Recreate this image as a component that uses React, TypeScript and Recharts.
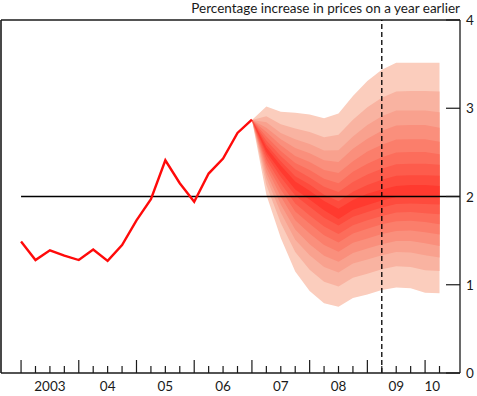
import React from 'react';
import { ComposedChart, Area, Line, XAxis, YAxis, ReferenceLine } from 'recharts';

// Quarter index: 0 = 2003 Q1
const cpiQuarters = [0, 1, 2, 3, 4, 5, 6, 7, 8, 9, 10, 11, 12, 13, 14, 15, 16];
const cpiValues = [1.49, 1.28, 1.39, 1.33, 1.28, 1.4, 1.27, 1.45, 1.73, 1.97, 2.41, 2.15, 1.94, 2.26, 2.43, 2.72, 2.87];

const fanQuarters = [16, 17, 18, 19, 20, 21, 22, 23, 24, 25, 26, 27, 28, 29];
const up9 = [2.867, 3.02, 2.96, 2.95, 2.93, 2.886, 2.94, 3.14, 3.31, 3.435, 3.515, 3.515, 3.515, 3.515];
const up8 = [2.867, 2.91, 2.82, 2.77, 2.73, 2.67, 2.7, 2.87, 3.01, 3.12, 3.19, 3.195, 3.195, 3.19];
const up7 = [2.867, 2.84, 2.72, 2.65, 2.595, 2.52, 2.525, 2.68, 2.81, 2.91, 2.975, 2.975, 2.975, 2.955];
const up6 = [2.867, 2.78, 2.65, 2.55, 2.49, 2.41, 2.39, 2.54, 2.655, 2.745, 2.805, 2.81, 2.81, 2.78];
const up5 = [2.867, 2.73, 2.58, 2.46, 2.39, 2.3, 2.265, 2.4, 2.51, 2.585, 2.645, 2.65, 2.65, 2.62];
const up4 = [2.867, 2.68, 2.515, 2.38, 2.3, 2.2, 2.15, 2.28, 2.37, 2.445, 2.5, 2.505, 2.505, 2.48];
const up3 = [2.867, 2.635, 2.46, 2.31, 2.215, 2.11, 2.05, 2.165, 2.25, 2.315, 2.365, 2.37, 2.37, 2.36];
const up2 = [2.867, 2.59, 2.4, 2.23, 2.135, 2.02, 1.945, 2.055, 2.13, 2.19, 2.235, 2.24, 2.24, 2.235];
const up1 = [2.867, 2.555, 2.35, 2.17, 2.065, 1.95, 1.86, 1.96, 2.03, 2.08, 2.12, 2.13, 2.13, 2.12];
const lo1 = [2.867, 2.505, 2.28, 2.08, 1.965, 1.845, 1.745, 1.85, 1.905, 1.955, 1.995, 2.005, 2.0, 2.0];
const lo2 = [2.867, 2.47, 2.22, 2.01, 1.885, 1.76, 1.67, 1.77, 1.825, 1.875, 1.915, 1.92, 1.915, 1.91];
const lo3 = [2.867, 2.42, 2.15, 1.92, 1.785, 1.66, 1.575, 1.675, 1.73, 1.78, 1.82, 1.825, 1.81, 1.8];
const lo4 = [2.867, 2.375, 2.08, 1.83, 1.69, 1.56, 1.48, 1.58, 1.635, 1.685, 1.72, 1.725, 1.71, 1.685];
const lo5 = [2.867, 2.325, 2.0, 1.73, 1.58, 1.45, 1.375, 1.475, 1.525, 1.575, 1.61, 1.615, 1.595, 1.57];
const lo6 = [2.867, 2.27, 1.91, 1.625, 1.46, 1.33, 1.26, 1.36, 1.41, 1.46, 1.495, 1.495, 1.47, 1.44];
const lo7 = [2.867, 2.21, 1.82, 1.51, 1.335, 1.2, 1.14, 1.24, 1.285, 1.335, 1.37, 1.365, 1.335, 1.31];
const lo8 = [2.867, 2.13, 1.7, 1.37, 1.17, 1.035, 0.98, 1.08, 1.125, 1.175, 1.21, 1.2, 1.165, 1.155];
const lo9 = [2.867, 2.02, 1.53, 1.15, 0.93, 0.79, 0.75, 0.85, 0.89, 0.94, 0.97, 0.96, 0.91, 0.905];

const quarterTicks = [0, 1, 2, 3, 4, 5, 6, 7, 8, 9, 10, 11, 12, 13, 14, 15, 16, 17, 18, 19, 20, 21, 22, 23, 24, 25, 26, 27, 28, 29];
const yearLabelPositions = [2, 6, 10, 14, 18, 22, 26, 28.5];
const yearLabels = ['2003', '04', '05', '06', '07', '08', '09', '10'];
const yTicks = [0, 1, 2, 3, 4];
const leftTicks = [1, 2, 3];
const forecastMarker = 25;
const targetRate = 2;
const titleText = 'Percentage increase in prices on a year earlier';

const uppers = [up1, up2, up3, up4, up5, up6, up7, up8, up9];
const lowers = [lo1, lo2, lo3, lo4, lo5, lo6, lo7, lo8, lo9];
// band 1 (central, darkest) ... band 9 (outer, lightest)
const bandColours = ['#FF3A2F', '#FE4B3D', '#FD5C4C', '#FC6D5B', '#FB7E6B', '#FA8F7C', '#F9A18E', '#F9B3A1', '#FBCDBD'];

const X_DOMAIN: [number, number] = [-1.39, 30.42];
const FONT = 'Lato, "Open Sans", sans-serif';
const INK = '#1a1a1a';

const allTicks = [...quarterTicks, 28.5];

type Row = { t: number; cpi?: number; [k: string]: any };
const data: Row[] = quarterTicks.map((t) => {
  const row: Row = { t };
  const ci = cpiQuarters.indexOf(t);
  if (ci >= 0) row.cpi = cpiValues[ci];
  const fi = fanQuarters.indexOf(t);
  if (fi >= 0) {
    for (let b = 0; b < 9; b++) {
      row['b' + (b + 1)] = [lowers[b][fi], uppers[b][fi]];
    }
  }
  return row;
});

const XTick = (props: any) => {
  const { x, y, payload } = props;
  const v = payload.value as number;
  const isQuarter = Number.isInteger(v);
  const major = isQuarter && v % 4 === 0;
  const li = yearLabelPositions.indexOf(v);
  return (
    <g>
      {isQuarter && (
        <line x1={x} x2={x} y1={y} y2={y - (major ? 13 : 7)} stroke={INK} strokeWidth={1.2} />
      )}
      {li >= 0 && (
        <text x={x} y={y + 18} textAnchor="middle" fontFamily={FONT} fontSize={13.5} fill={INK}>
          {yearLabels[li]}
        </text>
      )}
    </g>
  );
};

const RightTick = (props: any) => {
  const { x, y, payload } = props;
  return (
    <g>
      <line x1={x} x2={x - 14} y1={y} y2={y} stroke={INK} strokeWidth={1.2} />
      <text x={x + 6} y={y + 5} textAnchor="start" fontFamily={FONT} fontSize={13.5} fill={INK}>
        {payload.value}
      </text>
    </g>
  );
};

const LeftTick = (props: any) => {
  const { x, y } = props;
  return <line x1={x} x2={x + 14} y1={y} y2={y} stroke={INK} strokeWidth={1.2} />;
};

export default function App() {
  return (
    <div style={{ position: 'absolute', left: 0, top: 0, width: 477, height: 396, overflow: 'hidden' }}>
      <ComposedChart width={477} height={396} data={data} margin={{ top: 20, right: 0, bottom: 0, left: 1 }}>
        <XAxis
          xAxisId="q"
          dataKey="t"
          type="number"
          domain={X_DOMAIN}
          allowDataOverflow
          ticks={allTicks}
          interval={0}
          tickSize={0}
          tickMargin={0}
          tickLine={false}
          tick={<XTick />}
          axisLine={{ stroke: INK, strokeWidth: 1.3 }}
          height={23}
        />
        <YAxis
          yAxisId="r"
          orientation="right"
          domain={[0, 4]}
          ticks={yTicks}
          interval={0}
          width={17}
          tickSize={0}
          tickMargin={0}
          tickLine={false}
          tick={<RightTick />}
          axisLine={{ stroke: INK, strokeWidth: 1.3 }}
        />
        <YAxis
          yAxisId="l"
          orientation="left"
          domain={[0, 4]}
          ticks={leftTicks}
          interval={0}
          width={0}
          tickSize={0}
          tickMargin={0}
          tickLine={false}
          tick={<LeftTick />}
          axisLine={false}
        />
        {[9, 8, 7, 6, 5, 4, 3, 2, 1].map((b) => (
          <Area
            key={b}
            xAxisId="q"
            yAxisId="r"
            dataKey={'b' + b}
            type="linear"
            stroke="none"
            fill={bandColours[b - 1]}
            fillOpacity={1}
            isAnimationActive={false}
            dot={false}
            activeDot={false}
          />
        ))}
        <ReferenceLine xAxisId="q" yAxisId="r" y={4} stroke={INK} strokeWidth={1.3} />
        <ReferenceLine xAxisId="q" yAxisId="r" x={X_DOMAIN[0]} stroke={INK} strokeWidth={1.6} />
        <ReferenceLine
          xAxisId="q"
          yAxisId="r"
          segment={[
            { x: 0, y: targetRate },
            { x: X_DOMAIN[1], y: targetRate },
          ]}
          stroke="#000"
          strokeWidth={1.3}
        />
        <ReferenceLine
          xAxisId="q"
          yAxisId="r"
          x={forecastMarker}
          stroke="#000"
          strokeWidth={1.3}
          strokeDasharray="5 3"
        />
        <Line
          xAxisId="q"
          yAxisId="r"
          dataKey="cpi"
          type="linear"
          stroke="#FF0A0A"
          strokeWidth={2.4}
          dot={false}
          activeDot={false}
          isAnimationActive={false}
        />
      </ComposedChart>
      <div
        style={{
          position: 'absolute',
          right: 17,
          top: 0,
          zIndex: 2,
          fontFamily: FONT,
          fontSize: 13.5,
          color: INK,
          whiteSpace: 'nowrap',
          lineHeight: '16px',
        }}
      >
        {titleText}
      </div>
    </div>
  );
}
